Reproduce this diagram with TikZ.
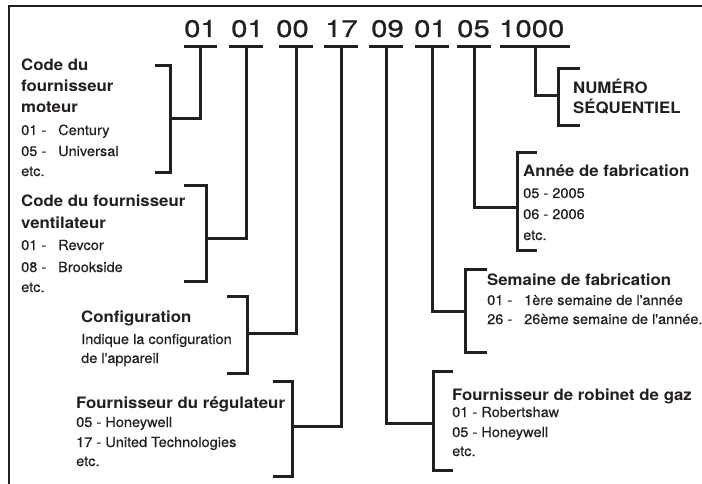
\documentclass[tikz,border=0pt]{standalone}
\usepackage{fontspec}
\setmainfont{TeX Gyre Heros}
\newfontfamily\headfont[FakeStretch=1.07]{TeX Gyre Heros}
\newfontfamily\bodyfont[FakeStretch=1.04,FakeBold=0.4]{TeX Gyre Heros}
\newfontfamily\numfont[FakeStretch=1.22,FakeBold=0.9]{TeX Gyre Heros}
\definecolor{ink}{HTML}{231F20}
\tikzset{
  hd/.style={font=\headfont\fontsize{15.7}{19}\selectfont\bfseries, text=ink, anchor=base west, inner sep=0pt},
  tx/.style={font=\bodyfont\fontsize{14}{16}\selectfont, text=ink, anchor=base west, inner sep=0pt},
  num/.style={font=\numfont\fontsize{24}{28}\selectfont, text=ink, anchor=base west, inner sep=0pt},
  ln/.style={draw=ink, line width=3pt, line join=miter},
  frameline/.style={draw=ink, line width=2pt}
}
\newcommand{\gap}{\hspace{0.85em}}
\begin{document}
\begin{tikzpicture}[x=1pt,y=-1pt]
\useasboundingbox (0,0) rectangle (702,484);
% frame
\coordinate (fb) at (9,485);
\coordinate (fc) at (9,6);
\coordinate (fr) at (703,6);
\draw[frameline] (fb) -- (fc) -- (fr);

% numbers
\node[num] (n1) at (184,37) {01};
\node[num] (n2) at (231,37) {01};
\node[num] (n3) at (276,37) {00};
\node[num] (n4) at (325,37) {17};
\node[num] (n5) at (371,37) {09};
\node[num] (n6) at (414,37) {01};
\node[num] (n7) at (457,37) {05};
\node[num] (n8) at (499,37) {1000};

% underline coordinates
\foreach \i/\l/\r/\v in {1/184/217/200, 2/229/263/246, 3/279/313/296, 4/324/358/341, 5/369/403/386, 6/415/449/432, 7/457/491/474, 8/500/570/535}{
  \coordinate (ul\i) at (\l,47);
  \coordinate (ur\i) at (\r,47);
  \coordinate (v\i) at (\v,47);
  \draw[ln] (ul\i) -- (ur\i);
}

% brackets: name, bracket x, top, bottom, tab end x, mid
\foreach \i/\bx/\t/\b/\tab/\m in {1/170/66/173/155/119, 2/206/186/281/184/238, 3/247/296/373/227/333, 4/292/381/476/273/426, 5/433/371/470/453/423, 6/465/269/352/487/311, 7/517/153/250/537/208, 8/558/69/126/580/96}{
  \coordinate (bt\i) at (\tab,\t);
  \coordinate (bb\i) at (\tab,\b);
  \coordinate (bm\i) at (\bx,\m);
  \draw[ln] (bt\i) -- (\bx,\t) -- (\bx,\b) -- (bb\i);
  \draw[ln] (bm\i) -| ([yshift=-1.5pt]v\i);
}

% left texts
\node[hd] (a1) at (21,71) {Code du};
\node[hd] (a2) at (21,92) {fournisseur};
\node[hd] (a3) at (21,113) {moteur};
\node[tx] (a4) at (21,135) {01 -\gap Century};
\node[tx] (a5) at (21,156) {05 -\gap Universal};
\node[tx] (a6) at (21,176) {etc.};

\node[hd] (b1) at (21,207) {Code du fournisseur};
\node[hd] (b2) at (21,229) {ventilateur};
\node[tx] (b3) at (21,250) {01 -\gap Revcor};
\node[tx] (b4) at (21,272) {08 -\gap Brookside};
\node[tx] (b5) at (21,292) {etc.};

\node[hd] (c1) at (81,322) {Configuration};
\node[tx] (c2) at (81,344) {Indique la configuration};
\node[tx] (c3) at (81,363) {de l\textquotesingle appareil};

\node[hd] (d1) at (76,408) {Fournisseur du régulateur};
\node[tx] (d2) at (76,427) {05 - Honeywell};
\node[tx] (d3) at (76,447) {17 - United Technologies};
\node[tx] (d4) at (76,466) {etc.};

% right texts
\node[hd] (e1) at (573,94) {NUMÉRO};
\node[hd] (e2) at (573,114) {SÉQUENTIEL};

\node[hd] (f1) at (523,177) {Année de fabrication};
\node[tx] (f2) at (523,198) {05 - 2005};
\node[tx] (f3) at (523,219) {06 - 2006};
\node[tx] (f4) at (523,240) {etc.};

\node[hd] (g1) at (487,285) {Semaine de fabrication};
\node[tx] (g2) at (487,305) {01 -\gap 1ère semaine de l\textquotesingle année};
\node[tx] (g3) at (487,324) {26 -\gap 26ème semaine de l\textquotesingle année.};

\node[hd] (h1) at (452,400) {Fournisseur de robinet de gaz};
\node[tx] (h2) at (452,417) {01 - Robertshaw};
\node[tx] (h3) at (452,437) {05 - Honeywell};
\node[tx] (h4) at (452,456) {etc.};
\end{tikzpicture}
\end{document}
